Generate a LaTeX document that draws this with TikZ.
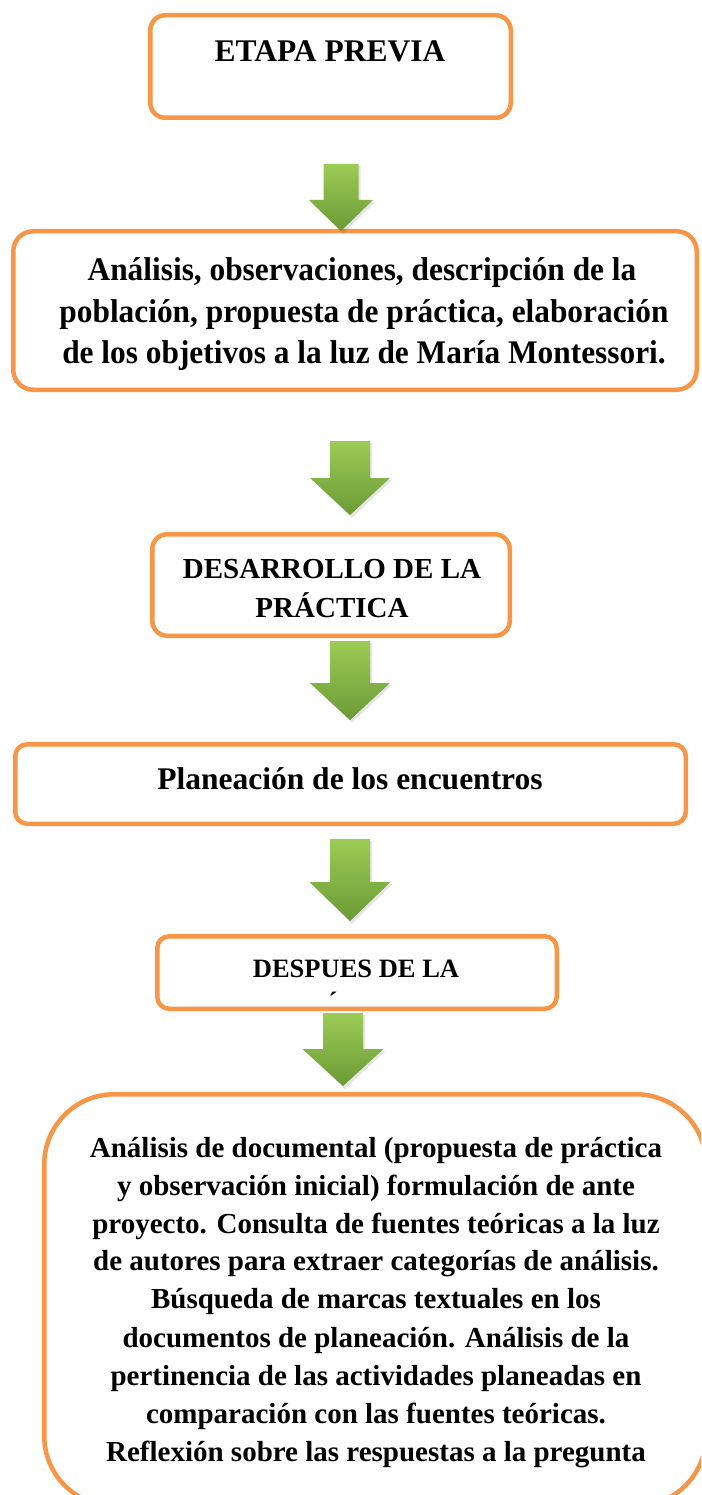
\documentclass[tikz,border=0pt]{standalone}
\usepackage{fontspec}
\setmainfont{Liberation Serif}
\newfontfamily\tallserif[FakeStretch=0.95]{Liberation Serif}
\definecolor{boxorange}{HTML}{F79646}
\definecolor{arrowtop}{HTML}{9CCB55}
\definecolor{arrowbot}{HTML}{6B9A36}
\tikzset{
  x=1pt,y=-1pt,
  flowbox/.style={draw=boxorange, line width=4.5pt, fill=white, inner sep=0pt, outer sep=0pt},
  boxtext/.style={inner sep=0pt, anchor=base, font=\bfseries},
  greenarrow/.style={top color=arrowtop, bottom color=arrowbot, draw=none},
  arrowshadow/.style={fill=black, opacity=0.10}
}
\newcommand{\greenarrow}[6]{%
  \fill[arrowshadow] ({#1-#5+2},{#2+2}) -- ({#1+#5+2},{#2+2}) -- ({#1+#5+2},{#3+2}) -- ({#1+#6+2},{#3+2}) -- ({#1+2},{#4+3}) -- ({#1-#6+2},{#3+2}) -- ({#1-#5+2},{#3+2}) -- cycle;
  \path[greenarrow] ({#1-#5},#2) -- ({#1+#5},#2) -- ({#1+#5},#3) -- ({#1+#6},#3) -- (#1,#4) -- ({#1-#6},#3) -- ({#1-#5},#3) -- cycle;
}
\begin{document}
\begin{tikzpicture}
\clip (0,0) rectangle (701,1495);
\fill[white] (0,0) rectangle (701,1495);

% boxes
\node[flowbox, rounded corners=15pt, minimum width=360.5pt, minimum height=102.5pt] (b1) at (330.5,66.5) {};
\node[flowbox, rounded corners=20pt, minimum width=683.5pt, minimum height=158.5pt] (b2) at (355,310.5) {};
\node[flowbox, rounded corners=15pt, minimum width=357.5pt, minimum height=101.5pt] (b3) at (331,585) {};
\node[flowbox, rounded corners=12pt, minimum width=670.5pt, minimum height=79.5pt] (b4) at (350.5,784) {};
\node[flowbox, rounded corners=12pt, minimum width=399.5pt, minimum height=72.5pt] (b5) at (357,972.5) {};
\node[flowbox, rounded corners=70pt, minimum width=661.75pt, minimum height=411.75pt] (b6) at (375.125,1300.125) {};

% arrows
\greenarrow{341}{164}{200}{231}{17.5}{32}
\greenarrow{350}{441}{478}{515}{20}{40}
\greenarrow{350}{641}{683}{720}{20}{40}
\greenarrow{350}{839}{882}{921}{20}{40.5}
\greenarrow{343}{1013}{1049}{1086}{20}{40.5}

% texts
\node[boxtext, font=\fontsize{31.5}{38}\selectfont\bfseries] (t1) at (330,62) {ETAPA PREVIA};

\begin{scope}[every node/.style={boxtext, font=\tallserif\fontsize{33}{40}\selectfont\bfseries}]
\node (t2a) at (362,281) {Análisis, observaciones, descripción de la};
\node (t2b) at (364,322.5) {población, propuesta de práctica, elaboración};
\node (t2c) at (364,363) {de los objetivos a la luz de María Montessori.};
\end{scope}

\begin{scope}[every node/.style={boxtext, font=\fontsize{29}{38}\selectfont\bfseries}]
\node (t3a) at (332,578) {DESARROLLO DE LA};
\node (t3b) at (332,617) {PRÁCTICA};
\end{scope}

\node[boxtext, font=\fontsize{31.5}{38}\selectfont\bfseries] (t4) at (350,789) {Planeación de los encuentros};

\node[boxtext, font=\fontsize{26.5}{32}\selectfont\bfseries] (t5) at (356,977) {DESPUES DE LA};
\node[boxtext, font=\fontsize{26.5}{32}\selectfont\bfseries] (t5acc) at (333,1010) {´};

\begin{scope}[every node/.style={boxtext, font=\fontsize{29}{38}\selectfont\bfseries}]
\node (t6a) at (376,1157) {Análisis de documental (propuesta de práctica};
\node (t6b) at (376,1195) {y observación inicial) formulación de ante};
\node (t6c) at (376,1233) {proyecto. Consulta de fuentes teóricas a la luz};
\node (t6d) at (376,1270) {de autores para extraer categorías de análisis.};
\node (t6e) at (376,1308) {Búsqueda de marcas textuales en los};
\node (t6f) at (376,1347) {documentos de planeación. Análisis de la};
\node (t6g) at (376,1385) {pertinencia de las actividades planeadas en};
\node (t6h) at (376,1423) {comparación con las fuentes teóricas.};
\node (t6i) at (376,1461) {Reflexión sobre las respuestas a la pregunta};
\end{scope}
\end{tikzpicture}
\end{document}
